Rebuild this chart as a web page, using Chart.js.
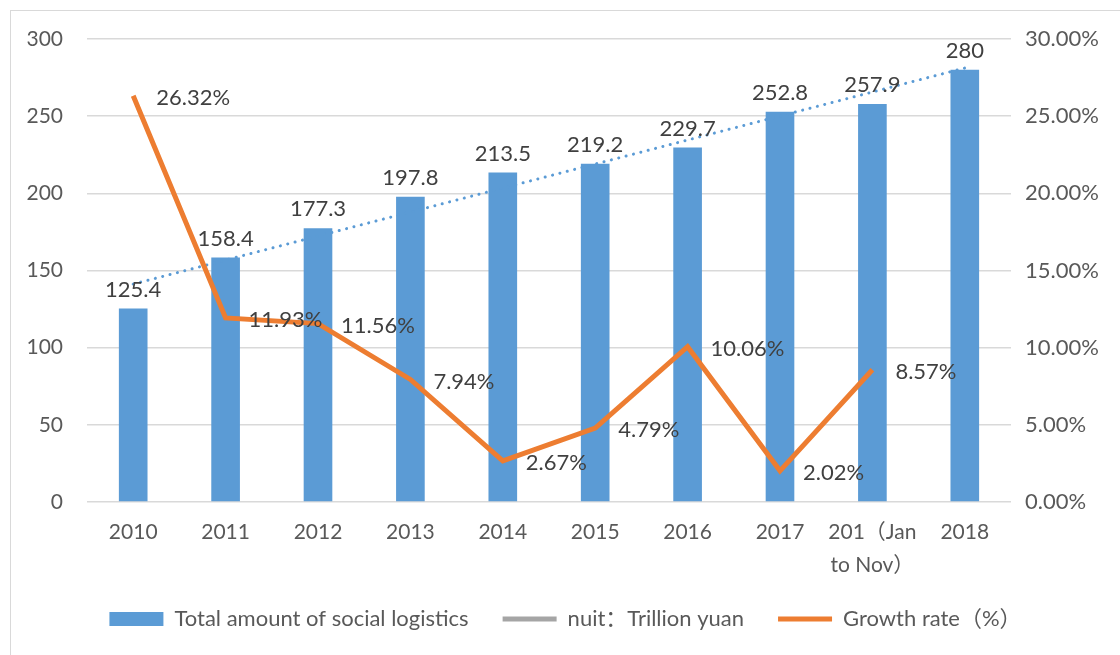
<!DOCTYPE html>
<html>
<head>
<meta charset="utf-8">
<script src="https://cdn.jsdelivr.net/npm/chart.js@4.4.1/dist/chart.umd.min.js"></script>
<style>
  html, body { margin: 0; padding: 0; background: #fff; overflow: hidden; width: 1120px; height: 655px; }
  #frame { position: absolute; left: 10px; top: 10px; width: 1130px; height: 660px; border: 1px solid #D9D9D9; box-sizing: border-box; }
  #wrap { position: absolute; left: 11px; top: 11px; width: 1109px; height: 644px; }
</style>
</head>
<body>
<div id="frame"></div>
<div id="wrap"><canvas id="c"></canvas></div>
<script>
// ---- data ----
const categories = ['2010', '2011', '2012', '2013', '2014', '2015', '2016', '2017', ['201（Jan', 'to Nov）'], '2018'];
const totalLogistics = [125.4, 158.4, 177.3, 197.8, 213.5, 219.2, 229.7, 252.8, 257.9, 280];
const growthRate = [26.32, 11.93, 11.56, 7.94, 2.67, 4.79, 10.06, 2.02, 8.57, null];
// linear trendline of the bars: only its two end values
const trendLine = [141.2, null, null, null, null, null, null, null, null, 281.2];
const leftTicks = [0, 50, 100, 150, 200, 250, 300];
const rightTicks = [0, 5, 10, 15, 20, 25, 30];
const legendTexts = ['Total amount of social logistics', 'nuit：Trillion yuan', 'Growth rate（%）'];

const FONT = "Lato, 'Noto Sans CJK SC', sans-serif";
const BLUE = '#5B9BD5', ORANGE = '#ED7D31', GRAY = '#A5A5A5';

const labelPlugin = {
  id: 'valueLabels',
  afterDatasetsDraw(chart) {
    const ctx = chart.ctx;
    ctx.save();
    ctx.font = '22px ' + FONT;
    ctx.fillStyle = '#404040';
    // bar labels
    chart.getDatasetMeta(0).data.forEach((el, i) => {
      const v = totalLogistics[i];
      if (v == null) return;
      ctx.textAlign = 'center';
      ctx.textBaseline = 'bottom';
      ctx.fillText(String(v), el.x, el.y - 8);
    });
    // growth labels
    chart.getDatasetMeta(2).data.forEach((el, i) => {
      const v = growthRate[i];
      if (v == null) return;
      ctx.textAlign = 'left';
      ctx.textBaseline = 'middle';
      ctx.fillText(v.toFixed(2) + '%', el.x + 23, el.y + 2);
    });
    ctx.restore();
  }
};

new Chart(document.getElementById('c'), {
  data: {
    labels: categories,
    datasets: [
      {
        type: 'bar',
        label: legendTexts[0],
        data: totalLogistics,
        backgroundColor: BLUE,
        borderWidth: 0,
        yAxisID: 'y',
        barPercentage: 0.62,
        categoryPercentage: 0.5,
        order: 3
      },
      {
        type: 'line',
        label: 'trend',
        data: trendLine,
        spanGaps: true,
        borderColor: BLUE,
        borderWidth: 3,
        borderDash: [0.1, 7.5],
        borderCapStyle: 'round',
        pointRadius: 0,
        fill: false,
        yAxisID: 'y',
        order: 2
      },
      {
        type: 'line',
        label: legendTexts[2],
        data: growthRate,
        borderColor: ORANGE,
        borderWidth: 5,
        borderJoinStyle: 'miter',
        pointRadius: 0,
        fill: false,
        tension: 0,
        yAxisID: 'y1',
        order: 1
      }
    ]
  },
  options: {
    responsive: true,
    maintainAspectRatio: false,
    animation: false,
    layout: { padding: { top: 28, left: 0, right: 0, bottom: 15 } },
    plugins: {
      tooltip: { enabled: false },
      legend: {
        position: 'bottom',
        labels: {
          font: { family: FONT, size: 22 },
          color: '#595959',
          usePointStyle: true,
          pointStyleWidth: 54,
          boxHeight: 14,
          padding: 34,
          generateLabels() {
            return [
              { text: legendTexts[0], fillStyle: BLUE, strokeStyle: BLUE, lineWidth: 0, pointStyle: 'rect', hidden: false, fontColor: '#595959' },
              { text: legendTexts[1], fillStyle: GRAY, strokeStyle: GRAY, lineWidth: 5, pointStyle: 'line', hidden: false, fontColor: '#595959' },
              { text: legendTexts[2], fillStyle: ORANGE, strokeStyle: ORANGE, lineWidth: 5, pointStyle: 'line', hidden: false, fontColor: '#595959' }
            ];
          }
        }
      }
    },
    scales: {
      x: {
        offset: true,
        grid: { display: false, drawTicks: false },
        border: { display: false },
        ticks: {
          font: { family: FONT, size: 21, lineHeight: 1.55 },
          color: '#595959',
          padding: 14,
          maxRotation: 0,
          autoSkip: false
        },
        afterFit(s) { s.height = 72; }
      },
      y: {
        position: 'left',
        min: 0,
        max: 300,
        afterBuildTicks(s) { s.ticks = leftTicks.map(v => ({ value: v })); },
        grid: { color: '#D9D9D9', lineWidth: 1.5, drawTicks: false },
        border: { display: false },
        ticks: {
          font: { family: FONT, size: 21 },
          color: '#595959',
          padding: 24
        },
        afterFit(s) { s.width = 76; s.paddingTop = 0; s.paddingBottom = 0; }
      },
      y1: {
        position: 'right',
        min: 0,
        max: 30,
        afterBuildTicks(s) { s.ticks = rightTicks.map(v => ({ value: v })); },
        grid: { drawOnChartArea: false, drawTicks: false },
        border: { display: false },
        ticks: {
          font: { family: FONT, size: 22 },
          color: '#595959',
          padding: 14,
          callback: v => Number(v).toFixed(2) + '%'
        },
        afterFit(s) { s.width = 109; s.paddingTop = 0; s.paddingBottom = 0; }
      }
    }
  },
  plugins: [labelPlugin]
});
</script>
</body>
</html>
